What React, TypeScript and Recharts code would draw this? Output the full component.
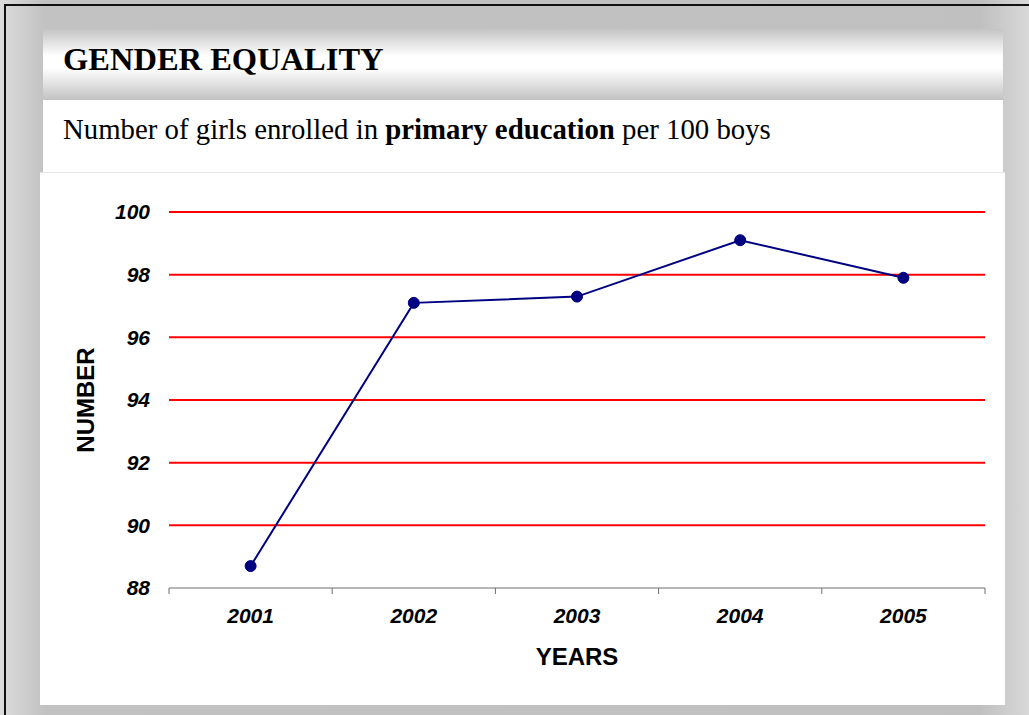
import { LineChart, Line, XAxis, YAxis, ReferenceLine, Label } from 'recharts';

const years = ['2001', '2002', '2003', '2004', '2005'];
const girlsPer100Boys = [88.7, 97.1, 97.3, 99.1, 97.9];
const yTicks = [88, 90, 92, 94, 96, 98, 100];

const data = years.map((year, i) => ({ year, value: girlsPer100Boys[i] }));

const CHART_W = 965;
const CHART_H = 532;
const M_LEFT = 129;
const M_RIGHT = 20;
const BAND = (CHART_W - M_LEFT - M_RIGHT) / years.length;

const tickFont = {
  fontFamily: '"Liberation Sans", Arial, sans-serif',
  fontWeight: 700,
  fontStyle: 'italic',
  fontSize: 21,
  fill: '#000',
};

const YearTick = (props: any) => {
  const { x, y, payload, index } = props;
  const left = x - BAND / 2;
  return (
    <g>
      <line x1={left} y1={y} x2={left} y2={y + 6} stroke="#6f6f6f" strokeWidth={1} />
      {index === years.length - 1 && (
        <line x1={x + BAND / 2} y1={y} x2={x + BAND / 2} y2={y + 6} stroke="#6f6f6f" strokeWidth={1} />
      )}
      <text x={x} y={y + 35} textAnchor="middle" {...tickFont}>
        {payload.value}
      </text>
    </g>
  );
};

export default function App() {
  return (
    <div
      style={{
        position: 'absolute',
        left: 0,
        top: 0,
        width: 1029,
        height: 715,
        overflow: 'hidden',
        background: 'linear-gradient(to right, #dcdcdc 0px, #c2c2c2 45px, #c0c0c0 980px, #d8d8d8 1029px)',
      }}
    >
      {/* cropped slide border */}
      <div style={{ position: 'absolute', left: 4, top: 4, width: 1025, height: 2, background: '#111' }} />
      <div style={{ position: 'absolute', left: 4, top: 4, width: 2, height: 711, background: '#111' }} />

      {/* title bar */}
      <div
        style={{
          position: 'absolute',
          left: 43,
          top: 29,
          width: 960,
          height: 71,
          background: 'linear-gradient(to bottom, #c4c4c4 0%, #ffffff 38%, #ffffff 55%, #c2c2c2 100%)',
        }}
      >
        <div
          style={{
            position: 'absolute',
            left: 20,
            top: 12,
            fontFamily: '"Liberation Serif", "Times New Roman", serif',
            fontWeight: 700,
            fontSize: 32.5,
            color: '#000',
            whiteSpace: 'nowrap',
          }}
        >
          GENDER EQUALITY
        </div>
      </div>

      {/* subtitle */}
      <div style={{ position: 'absolute', left: 43, top: 100, width: 960, height: 72, background: '#fff' }}>
        <div
          style={{
            position: 'absolute',
            left: 20,
            top: 13,
            fontFamily: '"Liberation Serif", "Times New Roman", serif',
            fontSize: 28.8,
            color: '#000',
            whiteSpace: 'nowrap',
          }}
        >
          Number of girls enrolled in <b>primary education</b> per 100 boys
        </div>
      </div>

      {/* chart panel */}
      <div
        style={{
          position: 'absolute',
          left: 40,
          top: 172,
          width: CHART_W,
          height: CHART_H,
          background: '#fff',
          borderTop: '1px solid #e6e6e6',
        }}
      >
        <LineChart
          width={CHART_W}
          height={CHART_H}
          data={data}
          margin={{ top: 39, right: M_RIGHT, left: 0, bottom: 0 }}
        >
          {yTicks
            .filter((t) => t > 88)
            .map((t) => (
              <ReferenceLine key={t} y={t} stroke="#ff0000" strokeWidth={2} />
            ))}
          <XAxis
            dataKey="year"
            scale="band"
            height={117}
            tickSize={0}
            tickMargin={0}
            tickLine={false}
            axisLine={{ stroke: '#6f6f6f', strokeWidth: 1 }}
            tick={<YearTick />}
            interval={0}
          >
            <Label
              value="YEARS"
              position="insideTop"
              offset={60}
              style={{
                fontFamily: '"Liberation Sans", Arial, sans-serif',
                fontWeight: 700,
                fontSize: 24,
                fill: '#000',
              }}
            />
          </XAxis>
          <YAxis
            width={M_LEFT}
            domain={[88, 100]}
            ticks={yTicks}
            axisLine={false}
            tickLine={false}
            tickSize={0}
            tickMargin={19}
            tick={tickFont}
          >
            <Label
              value="NUMBER"
              angle={-90}
              position="insideLeft"
              offset={45}
              style={{
                fontFamily: '"Liberation Sans", Arial, sans-serif',
                fontWeight: 700,
                fontSize: 24,
                fill: '#000',
                textAnchor: 'middle',
              }}
            />
          </YAxis>
          <Line
            type="linear"
            dataKey="value"
            stroke="#000080"
            strokeWidth={2}
            dot={{ r: 5.5, fill: '#000080', stroke: '#000080', strokeWidth: 1 }}
            isAnimationActive={false}
          />
        </LineChart>
      </div>
    </div>
  );
}
